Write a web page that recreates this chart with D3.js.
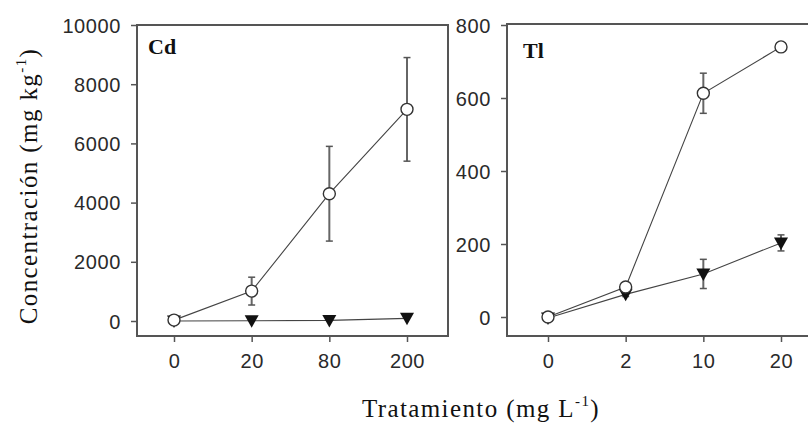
<!DOCTYPE html>
<html><head><meta charset="utf-8">
<script src="https://cdn.jsdelivr.net/npm/d3@7"></script>
<style>body{margin:0;background:#fff}svg{display:block}</style>
</head><body>
<script>
// ---- data ----
const cdTreatments = ["0", "20", "80", "200"];
const cdOpen = [30, 1010, 4300, 7150];
const cdOpenErr = [0, 470, 1600, 1750];
const cdTri = [0, 10, 20, 90];
const cdTriErr = [0, 0, 0, 0];
const cdYTicks = [0, 2000, 4000, 6000, 8000, 10000];

const tlTreatments = ["0", "2", "10", "20"];
const tlOpen = [0, 82, 613, 740];
const tlOpenErr = [0, 0, 55, 0];
const tlTri = [-3, 62, 118, 203];
const tlTriErr = [0, 6, 40, 22];
const tlYTicks = [0, 200, 400, 600, 800];

const W = 808, H = 425;
const svg = d3.select("body").append("svg").attr("width", W).attr("height", H);

function panel(cfg) {
  const g = svg.append("g");
  const x = d3.scalePoint().domain(cfg.cats).range([cfg.x0, cfg.x1]);
  const y = d3.scaleLinear().domain(cfg.ydom).range(cfg.yrange);
  g.append("rect").attr("x", cfg.fl).attr("y", cfg.ft)
    .attr("width", cfg.fr - cfg.fl).attr("height", cfg.fb - cfg.ft)
    .attr("fill", "none").attr("stroke", "#555").attr("stroke-width", 2);
  const ya = g.append("g").attr("transform", `translate(${cfg.fl - 1},0)`)
    .call(d3.axisLeft(y).tickValues(cfg.yticks).tickSize(5).tickPadding(10).tickFormat(d3.format("d")));
  ya.select(".domain").remove();
  ya.selectAll("line").attr("stroke", "#555").attr("stroke-width", 1.5);
  ya.selectAll("text").attr("font-family", "Liberation Sans, Arial, sans-serif")
    .attr("font-size", 20).attr("letter-spacing", 0.6).attr("fill", "#2a2a2a").attr("dy", "0.35em");
  const xa = g.append("g").attr("transform", `translate(0,${cfg.fb + 1})`)
    .call(d3.axisBottom(x).tickSize(5).tickPadding(12));
  xa.select(".domain").remove();
  xa.selectAll("line").attr("stroke", "#555").attr("stroke-width", 1.5);
  xa.selectAll("text").attr("font-family", "Liberation Sans, Arial, sans-serif")
    .attr("font-size", 20).attr("letter-spacing", 0.6).attr("fill", "#2a2a2a");
  const cid = "clip" + cfg.id;
  svg.append("clipPath").attr("id", cid).append("rect")
    .attr("x", cfg.fl).attr("y", cfg.ft).attr("width", cfg.fr - cfg.fl).attr("height", cfg.fb - cfg.ft);
  const pg = g.append("g").attr("clip-path", `url(#${cid})`);
  const line = d3.line().x((d, i) => x(cfg.cats[i])).y(d => y(d));
  const series = [
    {v: cfg.tri, e: cfg.triErr, sym: "tri"},
    {v: cfg.open, e: cfg.openErr, sym: "circ"}
  ];
  series.forEach(s => {
    pg.append("path").attr("d", line(s.v)).attr("fill", "none")
      .attr("stroke", "#444").attr("stroke-width", 1.1);
  });
  series.forEach(s => {
    s.v.forEach((v, i) => {
      const e = s.e[i];
      if (e > 0) {
        const cx = x(cfg.cats[i]);
        pg.append("line").attr("x1", cx).attr("x2", cx).attr("y1", y(v + e)).attr("y2", y(v - e))
          .attr("stroke", "#666").attr("stroke-width", 2);
        [v + e, v - e].forEach(t => pg.append("line").attr("x1", cx - 3.5).attr("x2", cx + 3.5)
          .attr("y1", y(t)).attr("y2", y(t)).attr("stroke", "#555").attr("stroke-width", 1.5));
      }
    });
  });
  series.forEach(s => {
    s.v.forEach((v, i) => {
      const cx = x(cfg.cats[i]), cy = y(v);
      if (s.sym === "circ") {
        pg.append("circle").attr("cx", cx).attr("cy", cy).attr("r", 6)
          .attr("fill", "#fff").attr("stroke", "#333").attr("stroke-width", 1.4);
      } else {
        pg.append("path").attr("d", `M${cx - 7},${cy - 5.5}L${cx + 7},${cy - 5.5}L${cx},${cy + 7}Z`)
          .attr("fill", "#111");
      }
    });
  });
  g.append("text").attr("x", cfg.lx).attr("y", cfg.ly).text(cfg.label)
    .attr("font-family", "Liberation Serif, Times New Roman, serif").attr("font-weight", "bold")
    .attr("font-size", 22).attr("fill", "#111");
}

panel({id: "cd", cats: cdTreatments, open: cdOpen, openErr: cdOpenErr, tri: cdTri, triErr: cdTriErr,
  ydom: [0, 10000], yrange: [321, 25], yticks: cdYTicks,
  x0: 174, x1: 407, fl: 137, fr: 448, ft: 25, fb: 336, label: "Cd", lx: 148, ly: 54});
panel({id: "tl", cats: tlTreatments, open: tlOpen, openErr: tlOpenErr, tri: tlTri, triErr: tlTriErr,
  ydom: [0, 800], yrange: [317, 25], yticks: tlYTicks,
  x0: 548, x1: 781, fl: 507, fr: 880, ft: 24, fb: 336, label: "Tl", lx: 523, ly: 58});

const yl = svg.append("text").attr("transform", "translate(37,186) rotate(-90)")
  .attr("text-anchor", "middle").attr("font-family", "Liberation Serif, Times New Roman, serif")
  .attr("font-size", 25).attr("letter-spacing", 1.4).attr("fill", "#111");
yl.append("tspan").text("Concentración (mg kg");
yl.append("tspan").text("-1").attr("font-size", 15).attr("dy", -11);
yl.append("tspan").text(")").attr("dy", 11);

const xl = svg.append("text").attr("x", 481).attr("y", 417)
  .attr("text-anchor", "middle").attr("font-family", "Liberation Serif, Times New Roman, serif")
  .attr("font-size", 25).attr("letter-spacing", 1.4).attr("fill", "#111");
xl.append("tspan").text("Tratamiento (mg L");
xl.append("tspan").text("-1").attr("font-size", 15).attr("dy", -11);
xl.append("tspan").text(")").attr("dy", 11);
</script>
</body></html>
